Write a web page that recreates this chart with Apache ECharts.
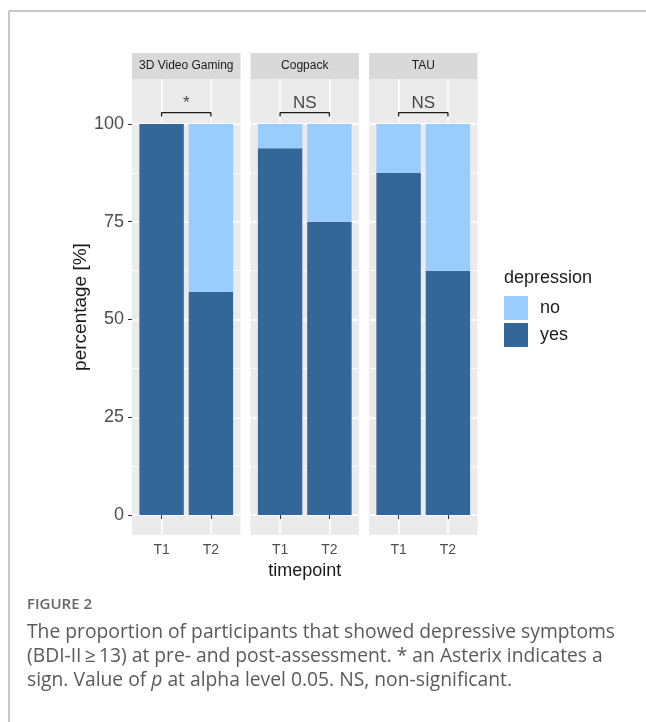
<!DOCTYPE html>
<html>
<head>
<meta charset="utf-8">
<script src="https://cdn.jsdelivr.net/npm/echarts@6/dist/echarts.min.js"></script>
<style>
  html, body { margin: 0; padding: 0; background: #ffffff; }
  #chart { width: 646px; height: 722px; }
</style>
</head>
<body>
<div id="chart"></div>
<script>
// Facet panels (training groups) and timepoints
const groups = ['3D Video Gaming', 'Cogpack', 'TAU'];
const timepoints = ['T1', 'T2'];

// Percentage of participants with / without depressive symptoms, per group [T1, T2]
const yesPct = [[100, 57.1], [93.8, 75], [87.5, 62.5]];
const noPct = [[0, 42.9], [6.2, 25], [12.5, 37.5]];

// Significance annotation per group
const sigLabels = ['*', 'NS', 'NS'];
const bracketTop = 102.9;
const bracketFoot = 101.9;

// Y axis ticks and minor grid values
const yTicks = [0, 25, 50, 75, 100];
const yMinor = [12.5, 37.5, 62.5, 87.5];

// Layout
const panelLeft = 132, panelWidth = 108.5, panelGap = 10;
const panelTop = 79, panelHeight = 456;
const stripHeight = 26;
const xMin = 0.4, xMax = 2.6;
const yMin = -5.1, yMax = 111.5;
const barW = panelWidth / (xMax - xMin) * 0.9;

const colYes = '#336699';
const colNo = '#99CCFF';
const FONT = '"Liberation Sans", Arial, sans-serif';

const grids = [], xAxes = [], yAxes = [], series = [], graphics = [];

groups.forEach((g, i) => {
  const left = panelLeft + i * (panelWidth + panelGap);
  grids.push({
    left: left, top: panelTop, width: panelWidth, height: panelHeight,
    show: true, backgroundColor: '#EBEBEB', borderWidth: 0
  });
  xAxes.push({
    type: 'value', gridIndex: i, min: xMin, max: xMax,
    name: i === 1 ? 'timepoint' : '',
    nameLocation: 'middle', nameGap: 25,
    nameTextStyle: { fontSize: 18, color: '#1A1A1A', fontFamily: FONT },
    axisLine: { show: false },
    axisTick: { show: true, customValues: [1, 2], length: 4, lineStyle: { color: '#333333', width: 1 } },
    axisLabel: {
      customValues: [1, 2], fontSize: 14, color: '#4D4D4D', margin: 8, fontFamily: FONT,
      formatter: v => timepoints[Math.round(v) - 1]
    },
    splitLine: { show: true, lineStyle: { color: '#FFFFFF', width: 1.5 } }
  });
  yAxes.push({
    type: 'value', gridIndex: i, min: yMin, max: yMax,
    name: i === 0 ? 'percentage [%]' : '',
    nameLocation: 'middle', nameRotate: 90, nameGap: 40,
    nameTextStyle: { fontSize: 19, color: '#1A1A1A', fontFamily: FONT },
    axisLine: { show: false },
    axisTick: { show: i === 0, customValues: yTicks, length: 4, lineStyle: { color: '#333333', width: 1 } },
    axisLabel: { show: i === 0, customValues: yTicks, fontSize: 18, color: '#4D4D4D', margin: 8, fontFamily: FONT },
    splitLine: { show: true, lineStyle: { color: '#FFFFFF', width: 1.5 } }
  });

  // bars: value first, timepoint position second, so the stack runs along y
  series.push({
    name: 'yes', type: 'bar', xAxisIndex: i, yAxisIndex: i, stack: 'p' + i,
    barWidth: barW, z: 3,
    encode: { x: 1, y: 0 },
    itemStyle: { color: colYes },
    data: timepoints.map((t, k) => [yesPct[i][k], k + 1]),
    markLine: {
      silent: true, symbol: 'none', z: 1, animation: false,
      label: { show: false },
      lineStyle: { color: '#FFFFFF', width: 0.8, type: 'solid' },
      data: yMinor.map(v => ({ yAxis: v }))
    }
  });
  series.push({
    name: 'no', type: 'bar', xAxisIndex: i, yAxisIndex: i, stack: 'p' + i,
    barWidth: barW, z: 3,
    encode: { x: 1, y: 0 },
    itemStyle: { color: colNo },
    data: timepoints.map((t, k) => [noPct[i][k], k + 1])
  });
  // significance bracket between T1 and T2
  series.push({
    type: 'line', xAxisIndex: i, yAxisIndex: i, symbol: 'none', silent: true, z: 4,
    lineStyle: { color: '#1A1A1A', width: 1.3 },
    data: [[1, bracketFoot], [1, bracketTop], [2, bracketTop], [2, bracketFoot]]
  });
  series.push({
    type: 'scatter', xAxisIndex: i, yAxisIndex: i, symbolSize: 0, silent: true, z: 4,
    label: {
      show: true, position: 'top', distance: 1, formatter: sigLabels[i],
      fontSize: 17, color: '#1A1A1A', fontFamily: FONT
    },
    data: [[1.5, bracketTop]]
  });

  // facet strip
  graphics.push({
    type: 'rect', shape: { x: left, y: panelTop - stripHeight, width: panelWidth, height: stripHeight },
    style: { fill: '#D9D9D9' }, silent: true
  });
  graphics.push({
    type: 'text', x: left + panelWidth / 2, y: panelTop - stripHeight / 2,
    style: { text: g, fontSize: 12, fill: '#1A1A1A', align: 'center', verticalAlign: 'middle', fontFamily: FONT },
    silent: true
  });
});

// legend title
graphics.push({
  type: 'text', x: 504, y: 278,
  style: { text: 'depression', fontSize: 18, fill: '#1A1A1A', verticalAlign: 'middle', fontFamily: FONT }
});

// figure frame lines
graphics.push({ type: 'line', shape: { x1: 9, y1: 11, x2: 646, y2: 11 }, style: { stroke: '#B4B4B4', lineWidth: 1.5 }, silent: true });
graphics.push({ type: 'line', shape: { x1: 9, y1: 11, x2: 9, y2: 722 }, style: { stroke: '#B4B4B4', lineWidth: 1.5 }, silent: true });

// caption
const CAP = '"Open Sans", "Noto Sans", sans-serif';
graphics.push({
  type: 'text', x: 27, y: 605,
  style: { text: 'FIGURE 2', fontSize: 15, fontWeight: 600, fill: '#666666', verticalAlign: 'middle', fontFamily: CAP }
});
const captionLines = [
  'The proportion of participants that showed depressive symptoms',
  '(BDI-II\u2009\u2265\u200913) at pre- and post-assessment. * an Asterix indicates a',
  'sign. Value of {i|p} at alpha level 0.05. NS, non-significant.'
];
captionLines.forEach((line, k) => {
  graphics.push({
    type: 'text', x: 27, y: 633 + k * 24,
    style: {
      text: line, fontSize: 19.3, fill: '#5A5A5A', verticalAlign: 'middle', fontFamily: CAP,
      rich: { i: { fontStyle: 'italic', fontSize: 19.3, fill: '#5A5A5A', fontFamily: CAP } }
    }
  });
});

const chart = echarts.init(document.getElementById('chart'), null, { renderer: 'canvas' });
chart.setOption({
  animation: false,
  backgroundColor: '#FFFFFF',
  textStyle: { fontFamily: FONT },
  grid: grids,
  xAxis: xAxes,
  yAxis: yAxes,
  legend: {
    data: ['no', 'yes'], orient: 'vertical', left: 504, top: 296, padding: 0,
    itemWidth: 24, itemHeight: 24, itemGap: 3, icon: 'rect',
    textStyle: { fontSize: 18, color: '#1A1A1A', fontFamily: FONT, padding: [0, 0, 0, 7] }
  },
  graphic: graphics,
  series: series
});
</script>
</body>
</html>
